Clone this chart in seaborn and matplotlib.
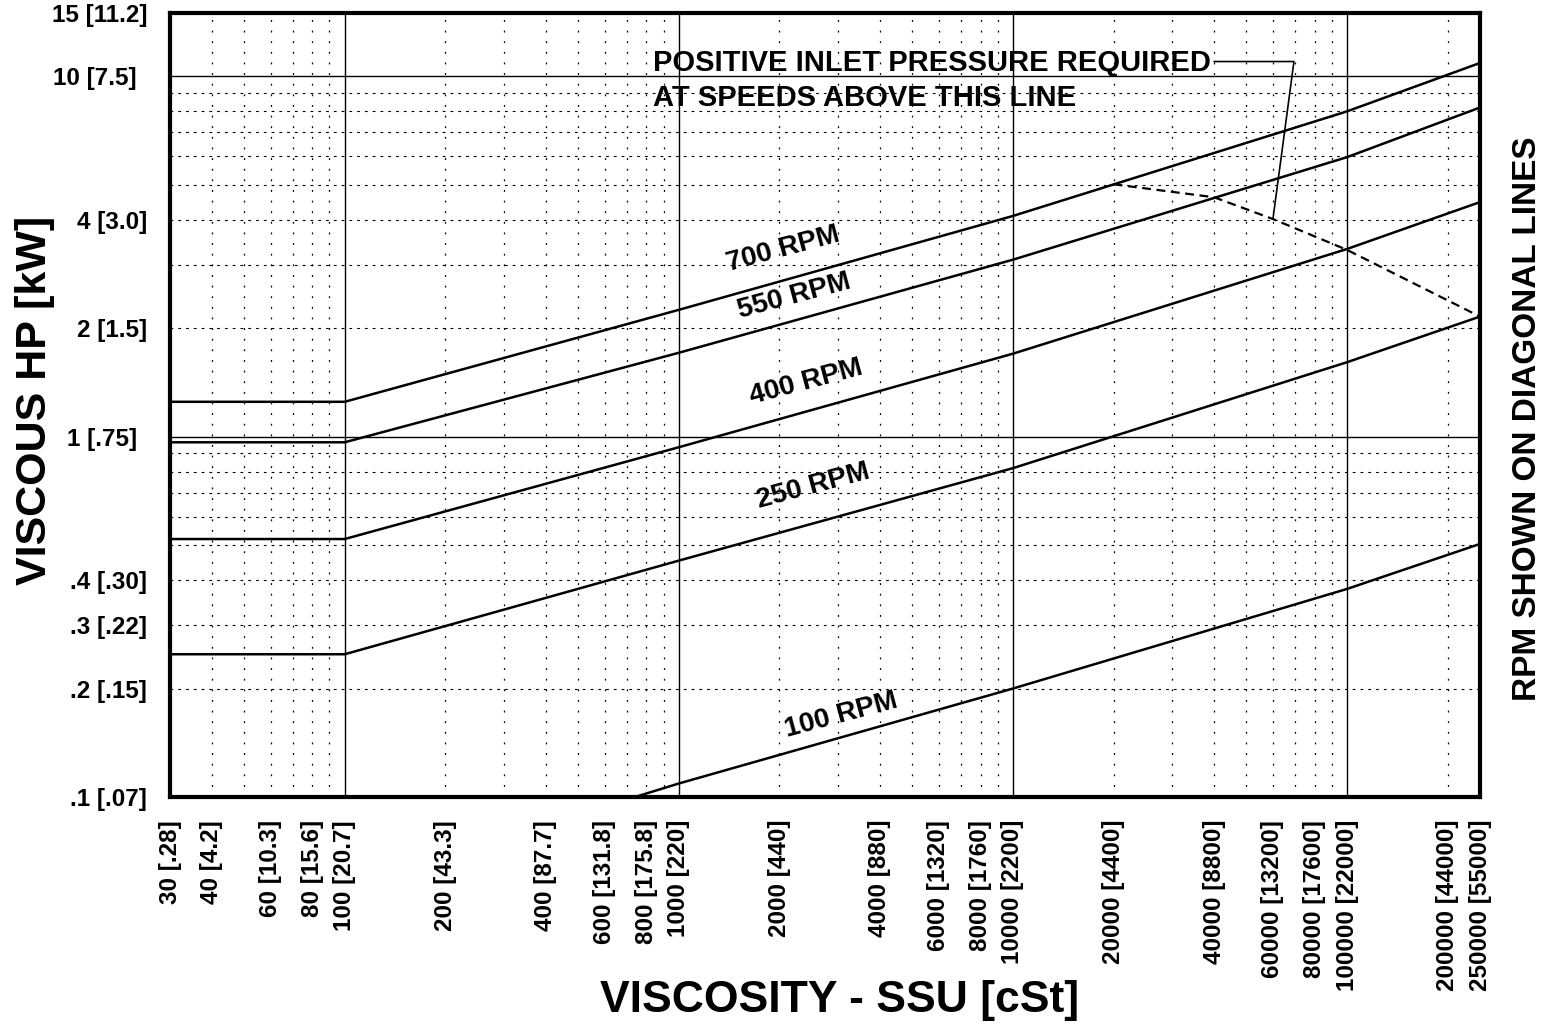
import matplotlib
matplotlib.use('Agg')
import matplotlib.pyplot as plt
from matplotlib.ticker import FixedLocator, FixedFormatter
import pandas as pd
import seaborn as sns

# viscosity break points (SSU) and viscous HP per speed
viscosity_ssu = [30, 100, 1000, 10000, 100000, 250000]
hp_700 = [1.25, 1.25, 2.25, 4.10, 8.00, 10.9]
hp_550 = [0.965, 0.965, 1.71, 3.10, 5.97, 8.2]
hp_400 = [0.52, 0.52, 0.935, 1.70, 3.32, 4.48]
hp_250 = [0.249, 0.249, 0.453, 0.818, 1.61, 2.155]

# 100 rpm line starts at the bottom of the chart
viscosity_100 = [740, 1000, 10000, 100000, 250000]
hp_100 = [0.1, 0.109, 0.200, 0.378, 0.504]

# dashed limit: positive inlet pressure above this line
limit_ssu = [20000, 40000, 60000, 100000, 250000]
limit_hp = [5.02, 4.62, 4.02, 3.30, 2.155]

# tick positions and labels (SSU [cSt], HP [kW])
x_ticks = [30, 40, 50, 60, 70, 80, 90,
           200, 300, 400, 500, 600, 700, 800, 900,
           2000, 3000, 4000, 5000, 6000, 7000, 8000, 9000,
           20000, 30000, 40000, 50000, 60000, 70000, 80000, 90000,
           200000, 250000]
x_labels = ['30 [.28]', '40 [4.2]', '', '60 [10.3]', '', '80 [15.6]', '',
            '200 [43.3]', '', '400 [87.7]', '', '600 [131.8]', '', '800 [175.8]', '',
            '2000 [440]', '', '4000 [880]', '', '6000 [1320]', '', '8000 [1760]', '',
            '20000 [4400]', '', '40000 [8800]', '', '60000 [13200]', '', '80000 [17600]', '',
            '200000 [44000]', '250000 [55000]']
x_decades = [100, 1000, 10000, 100000]
x_decade_labels = ['100 [20.7]', '1000 [220]', '10000 [2200]', '100000 [22000]']

y_ticks = [0.1, 0.2, 0.3, 0.4, 0.5, 0.6, 0.7, 0.8, 0.9,
           2, 3, 4, 5, 6, 7, 8, 9, 15]
y_labels = ['.1 [.07]', '.2 [.15]', '.3 [.22]', '.4 [.30]', '', '', '', '', '',
            '2 [1.5]', '', '4 [3.0]', '', '', '', '', '', '15 [11.2]']
y_decades = [1, 10]
y_decade_labels = ['1 [.75]', '10 [7.5]']

curves = pd.concat([
    pd.DataFrame({'ssu': viscosity_ssu, 'hp': hp_700, 'rpm': 700}),
    pd.DataFrame({'ssu': viscosity_ssu, 'hp': hp_550, 'rpm': 550}),
    pd.DataFrame({'ssu': viscosity_ssu, 'hp': hp_400, 'rpm': 400}),
    pd.DataFrame({'ssu': viscosity_ssu, 'hp': hp_250, 'rpm': 250}),
    pd.DataFrame({'ssu': viscosity_100, 'hp': hp_100, 'rpm': 100}),
])

sns.set_style('white')
plt.rcParams['font.family'] = ['Liberation Sans', 'DejaVu Sans']
plt.rcParams['font.weight'] = 'bold'
plt.rcParams['axes.labelweight'] = 'bold'
plt.rcParams['text.color'] = 'black'
plt.rcParams['axes.labelcolor'] = 'black'
plt.rcParams['xtick.color'] = 'black'
plt.rcParams['ytick.color'] = 'black'

fig = plt.figure(figsize=(15.47, 10.24), dpi=100)
ax = fig.add_axes([0.1099, 0.2217, 0.8468, 0.7656])
ax.set_xscale('log')
ax.set_yscale('log')

sns.lineplot(data=curves, x='ssu', y='hp', units='rpm', estimator=None,
             color='black', lw=1.8, ax=ax)
sns.lineplot(x=limit_ssu, y=limit_hp, color='black', lw=1.6,
             linestyle=(0, (4, 2.5)), ax=ax)

ax.set_xlim(30, 250000)
ax.set_ylim(0.1, 15)

ax.xaxis.set_major_locator(FixedLocator(x_ticks))
ax.xaxis.set_major_formatter(FixedFormatter(x_labels))
ax.xaxis.set_minor_locator(FixedLocator(x_decades))
ax.xaxis.set_minor_formatter(FixedFormatter(x_decade_labels))
ax.yaxis.set_major_locator(FixedLocator(y_ticks))
ax.yaxis.set_major_formatter(FixedFormatter(y_labels))
ax.yaxis.set_minor_locator(FixedLocator(y_decades))
ax.yaxis.set_minor_formatter(FixedFormatter(y_decade_labels))

ax.tick_params(axis='both', which='both', direction='out', color='black',
               labelcolor='black', labelsize=17.5, width=0.8)
ax.tick_params(axis='both', which='major', length=5.8, pad=10.7)
ax.tick_params(axis='x', which='minor', length=18, pad=-1.5)
ax.tick_params(axis='y', which='minor', length=24, pad=0)
ax.tick_params(axis='x', which='both', labelrotation=90)

# dotted grid at intermediate values, solid at decades
ax.grid(axis='x', which='major', color='black', lw=0.9, linestyle=(0, (1.5, 7)))
ax.grid(axis='y', which='major', color='black', lw=0.8, linestyle=(0, (2.5, 4.5)))
ax.grid(which='minor', color='black', lw=1.0, linestyle='-')

for side in ['left', 'right', 'top', 'bottom']:
    ax.spines[side].set_visible(True)
    ax.spines[side].set_linewidth(3)
    ax.spines[side].set_color('black')

ax.set_xlabel('VISCOSITY - SSU [cSt]', fontsize=32)
ax.xaxis.set_label_coords(0.511, -0.233)
ax.set_ylabel('VISCOUS HP [kW]', fontsize=31)
ax.yaxis.set_label_coords(-0.088, 0.506)
ax.text(1.036, 0.482, 'RPM SHOWN ON DIAGONAL LINES', transform=ax.transAxes,
        rotation=90, ha='center', va='center', fontsize=24)

# speed labels along the diagonals
for lbl, xx, yy in [('700 RPM', 2048, 3.32), ('550 RPM', 2210, 2.46),
                    ('400 RPM', 2400, 1.415), ('250 RPM', 2518, 0.73),
                    ('100 RPM', 3055, 0.1686)]:
    ax.text(xx, yy, lbl, rotation=15, rotation_mode='anchor',
            ha='center', va='center', fontsize=20)

ax.text(836, 10.93, 'POSITIVE INLET PRESSURE REQUIRED', ha='left', va='center',
        fontsize=21)
ax.text(836, 8.69, 'AT SPEEDS ABOVE THIS LINE', ha='left', va='center',
        fontsize=21)
ax.annotate('', xy=(limit_ssu[2], limit_hp[2]), xytext=(40000, 11.0),
            arrowprops=dict(arrowstyle='-', color='black', lw=1.2,
                            shrinkA=0, shrinkB=0,
                            connectionstyle='angle,angleA=0,angleB=82.4,rad=0'))

fig.savefig('out.png', dpi=100)
